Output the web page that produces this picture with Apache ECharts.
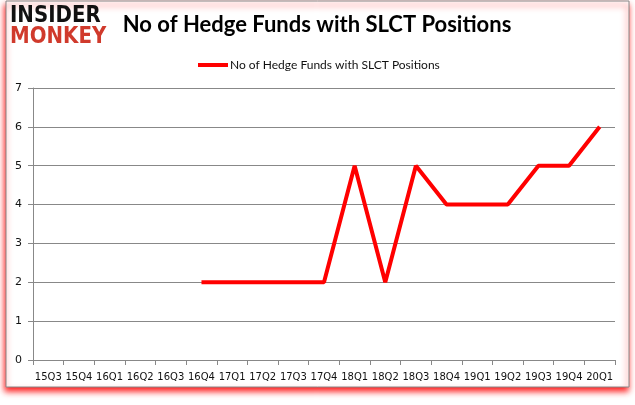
<!DOCTYPE html>
<html>
<head>
<meta charset="utf-8">
<script src="https://cdn.jsdelivr.net/npm/echarts@6/dist/echarts.min.js"></script>
<style>html,body{margin:0;padding:0;background:#fff;}#c{width:635px;height:405px;}</style>
</head>
<body>
<div id="c"></div>
<script>
const categories = ['15Q3','15Q4','16Q1','16Q2','16Q3','16Q4','17Q1','17Q2','17Q3','17Q4','18Q1','18Q2','18Q3','18Q4','19Q1','19Q2','19Q3','19Q4','20Q1'];
const hedgeFunds = [null,null,null,null,null,2,2,2,2,2,5,2,5,4,4,4,5,5,6];
const seriesName = 'No of Hedge Funds with SLCT Positions';
const titleText = 'No of Hedge Funds with SLCT Positions';

const chart = echarts.init(document.getElementById('c'));
chart.setOption({
  animation: false,
  backgroundColor: '#fff',
  graphic: [
    { type: 'rect', shape: { x: 6, y: 1, width: 623, height: 386 },
      style: { fill: '#fff', stroke: '#888', lineWidth: 1, shadowColor: 'rgba(255,0,0,0.9)', shadowBlur: 6, shadowOffsetX: -1, shadowOffsetY: 4 }, z: -10 },
    { type: 'text', x: 10, y: 5, scaleX: 0.86, style: { text: 'INSIDER', fill: '#111', font: 'bold 23px "DejaVu Sans"' } },
    { type: 'text', x: 10, y: 26, scaleX: 0.86, style: { text: 'MONKEY', fill: '#d03a2c', font: 'bold 23px "DejaVu Sans"' } }
  ],
  title: {
    text: titleText, left: 312, top: 9, textAlign: 'center',
    textStyle: { fontFamily: 'Lato', fontWeight: 'bold', fontSize: 22, color: '#000' }
  },
  legend: {
    top: 54, left: 193, itemWidth: 30, itemHeight: 4, itemGap: 4,
    icon: 'rect',
    textStyle: { fontFamily: 'Lato', fontSize: 12, color: '#111', padding: [0,0,0,-3] },
    data: [seriesName]
  },
  grid: { left: 33, right: 20, top: 88, bottom: 45 },
  xAxis: {
    type: 'category', data: categories, boundaryGap: true,
    axisLine: { lineStyle: { color: '#888' } },
    axisTick: { show: true, length: 5, lineStyle: { color: '#888' } },
    axisLabel: { color: '#111', fontFamily: 'DejaVu Sans', fontSize: 10, interval: 0, margin: 12 }
  },
  yAxis: {
    type: 'value', min: 0, max: 7, interval: 1,
    axisLine: { show: true, lineStyle: { color: '#888' } },
    axisTick: { show: true, length: 5, lineStyle: { color: '#888' } },
    splitLine: { lineStyle: { color: '#888' } },
    axisLabel: { color: '#111', fontFamily: 'DejaVu Sans', fontSize: 11, margin: 11 }
  },
  series: [{
    name: seriesName, type: 'line', data: hedgeFunds,
    showSymbol: false, symbol: 'none', connectNulls: false,
    lineStyle: { color: '#ff0000', width: 4 }, itemStyle: { color: '#ff0000' }
  }]
});
</script>
</body>
</html>
